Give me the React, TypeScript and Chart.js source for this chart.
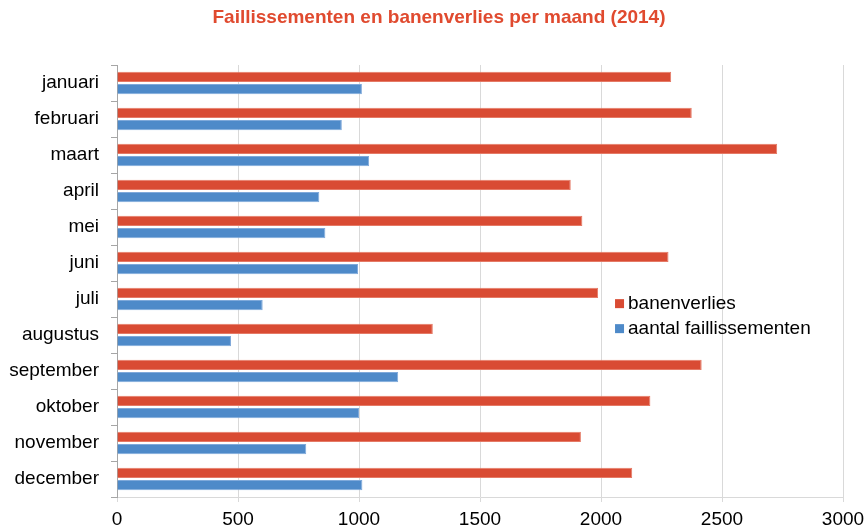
import React, { useEffect, useRef } from "react";
import { Chart, registerables } from "chart.js";

Chart.register(...registerables);

const categories = [
  "januari", "februari", "maart", "april", "mei", "juni",
  "juli", "augustus", "september", "oktober", "november", "december",
];
const banenverlies = [2290, 2375, 2728, 1875, 1923, 2279, 1988, 1305, 2416, 2204, 1917, 2129];
const faillissementen = [1012, 929, 1042, 836, 861, 996, 602, 471, 1162, 1000, 782, 1014];
const xTicks = [0, 500, 1000, 1500, 2000, 2500, 3000];

const seriesNames = ["banenverlies", "aantal faillissementen"];
const title = "Faillissementen en banenverlies per maand (2014)";

const RED = "#D94B33";
const BLUE = "#4E8AC9";
const FONT = "'Liberation Sans', Arial, sans-serif";

const overlayPlugin = {
  id: "overlay",
  afterDraw(chart: any) {
    const ctx = chart.ctx;
    const ca = chart.chartArea;
    ctx.save();
    // title
    ctx.fillStyle = "#E04A2F";
    ctx.font = `bold 19px ${FONT}`;
    ctx.textAlign = "center";
    ctx.textBaseline = "alphabetic";
    ctx.fillText(title, 439, 23);
    // legend
    const lx = ca.left + (ca.right - ca.left) * 0.686;
    const ly = ca.top + (ca.bottom - ca.top) * 0.542;
    const colors = [RED, BLUE];
    ctx.font = `19px ${FONT}`;
    ctx.textAlign = "left";
    seriesNames.forEach((name, i) => {
      const y = ly + i * 25;
      ctx.fillStyle = colors[i];
      ctx.fillRect(lx, y, 9, 9);
      ctx.fillStyle = "#000";
      ctx.fillText(name, lx + 13, y + 10);
    });
    ctx.restore();
  },
};

export default function App() {
  const ref = useRef<HTMLCanvasElement>(null);
  useEffect(() => {
    if (!ref.current) return;
    const chart = new Chart(ref.current, {
      type: "bar",
      data: {
        labels: categories,
        datasets: [
          {
            label: seriesNames[0],
            data: banenverlies,
            backgroundColor: RED,
            borderColor: "#E57A66",
            borderWidth: 1,
            categoryPercentage: 0.68,
            barPercentage: 0.85,
          },
          {
            label: seriesNames[1],
            data: faillissementen,
            backgroundColor: BLUE,
            borderColor: "#7FA9DA",
            borderWidth: 1,
            categoryPercentage: 0.68,
            barPercentage: 0.85,
          },
        ],
      },
      options: {
        indexAxis: "y",
        animation: false,
        responsive: false,
        maintainAspectRatio: false,
        layout: { padding: { top: 65, right: 24, left: 0, bottom: 0 } },
        plugins: {
          legend: { display: false },
          title: { display: false },
          tooltip: { enabled: false },
        },
        scales: {
          x: {
            min: 0,
            max: 3000,
            afterBuildTicks: (scale: any) => {
              scale.ticks = xTicks.map((v) => ({ value: v }));
            },
            afterFit: (scale: any) => {
              scale.height = 30;
              scale.paddingRight = 0;
              scale.paddingLeft = 0;
            },
            ticks: {
              font: { size: 19, family: FONT },
              color: "#000",
              padding: 6,
              maxRotation: 0,
              callback: (v: any) => String(v),
            },
            grid: { color: "#D9D9D9", tickLength: 5 },
            border: { color: "#D9D9D9" },
          },
          y: {
            afterFit: (scale: any) => {
              scale.width = 117;
            },
            ticks: {
              font: { size: 19, family: FONT },
              color: "#000",
              padding: 12,
            },
            grid: {
              drawOnChartArea: false,
              tickLength: 6,
              color: "#A6A6A6",
              offset: true,
            },
            border: { color: "#A6A6A6" },
          },
        },
      },
      plugins: [overlayPlugin],
    });
    return () => chart.destroy();
  }, []);
  return (
    <div style={{ position: "fixed", left: 0, top: 0, width: 867, height: 527, background: "#fff" }}>
      <canvas ref={ref} width={867} height={527} style={{ width: 867, height: 527, display: "block" }} />
    </div>
  );
}
